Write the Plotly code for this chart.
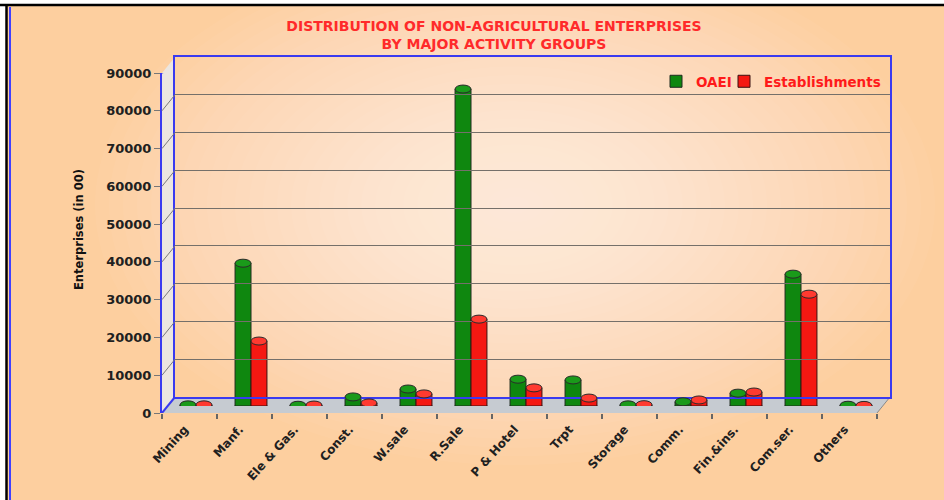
import plotly.graph_objects as go

# ---------------- data ----------------
categories = ["Mining", "Manf.", "Ele & Gas.", "Const.", "W.sale", "R.Sale", "P & Hotel",
              "Trpt", "Storage", "Comm.", "Fin.&ins.", "Com.ser.", "Others"]
oaei = [300, 37800, 200, 2400, 4500, 83900, 7100, 6900, 300, 1100, 3400, 34900, 200]
establishments = [300, 17200, 250, 800, 3200, 23000, 4800, 2100, 350, 1600, 3700, 29600, 150]
y_ticks = [0, 10000, 20000, 30000, 40000, 50000, 60000, 70000, 80000, 90000]
y_max = 90000

title_text = "DISTRIBUTION OF NON-AGRICULTURAL ENTERPRISES<br>BY MAJOR ACTIVITY GROUPS"
y_title = "Enterprises (in 00)"

# ---------------- geometry helpers (pixels -> paper) ----------------
W, H = 944, 500
def fx(p): return p / W
def fy(p): return 1 - p / H

FRONT_X = (162, 877); FRONT_Y = (413, 73)
MID_X = (168.5, 883.5); MID_Y = (406, 66)
BACK_X = (175, 890); BACK_Y = (397, 57)
DEPTH_PX = FRONT_Y[0] - BACK_Y[0]
px_per_unit = (FRONT_Y[0] - FRONT_Y[1]) / y_max

FONT = "DejaVu Sans"
GREEN = "#0f870f"
GREEN_TOP = "#1a9a1a"
RED = "#f51812"
RED_TOP = "#ff3a30"
BLUE = "#3a3af0"
PEACH = "#fdcf9f"
BARGAP = 0.42

fig = go.Figure()

# invisible trace to define categories on the front axis
fig.add_trace(go.Scatter(x=categories, y=oaei, xaxis="x", yaxis="y", mode="markers",
                         marker=dict(opacity=0), showlegend=False, hoverinfo="skip"))

fig.add_trace(go.Bar(name="OAEI", x=categories, y=oaei, xaxis="x2", yaxis="y2", legend="legend",
                     marker=dict(color=GREEN, line=dict(color="#1e2a1e", width=1))))
fig.add_trace(go.Bar(name="Establishments", x=categories, y=establishments, xaxis="x2", yaxis="y2",
                     legend="legend2",
                     marker=dict(color=RED, line=dict(color="#3a1010", width=1))))

# back wall helper trace (invisible)
fig.add_trace(go.Scatter(x=[0, 1], y=[0, y_max], xaxis="x3", yaxis="y3", mode="markers",
                         marker=dict(opacity=0), showlegend=False, hoverinfo="skip"))

shapes = []
# background
shapes.append(dict(type="rect", xref="paper", yref="paper", x0=fx(7), x1=1, y0=0, y1=fy(6),
                   fillcolor=PEACH, line=dict(width=0), layer="below"))
n_glow = 30
cx, cy, rx, ry = 515, 205, 420, 260
for i in range(n_glow):
    s = 1 - i / n_glow
    shapes.append(dict(type="circle", xref="paper", yref="paper",
                       x0=fx(cx - rx * s), x1=fx(cx + rx * s), y0=fy(cy + ry * s), y1=fy(cy - ry * s),
                       fillcolor="white", opacity=0.04, line=dict(width=0), layer="below"))
# outer border lines
shapes.append(dict(type="line", xref="paper", yref="paper", x0=0, x1=1, y0=fy(5), y1=fy(5),
                   line=dict(color="black", width=2.5), layer="below"))
shapes.append(dict(type="line", xref="paper", yref="paper", x0=fx(6.5), x1=fx(6.5), y0=0, y1=fy(5),
                   line=dict(color="black", width=2.5), layer="below"))
shapes.append(dict(type="line", xref="paper", yref="paper", x0=fx(10), x1=fx(10), y0=0, y1=fy(7),
                   line=dict(color="#4040ff", width=2), layer="below"))

# side wall
shapes.append(dict(type="path", xref="paper", yref="paper",
                   path=f"M {fx(FRONT_X[0])},{fy(FRONT_Y[1])} L {fx(BACK_X[0])},{fy(BACK_Y[1])} "
                        f"L {fx(BACK_X[0])},{fy(BACK_Y[0])} L {fx(FRONT_X[0])},{fy(FRONT_Y[0])} Z",
                   fillcolor="#ece6e0", line=dict(width=0), layer="below"))
# floor
shapes.append(dict(type="path", xref="paper", yref="paper",
                   path=f"M {fx(FRONT_X[0])},{fy(FRONT_Y[0])} L {fx(BACK_X[0])},{fy(BACK_Y[0])} "
                        f"L {fx(BACK_X[1])},{fy(BACK_Y[0])} L {fx(FRONT_X[1])},{fy(FRONT_Y[0])} Z",
                   fillcolor="#c6cbd1", line=dict(width=0), layer="below"))
shapes.append(dict(type="line", xref="paper", yref="paper",
                   x0=fx(BACK_X[1]), y0=fy(BACK_Y[0]), x1=fx(FRONT_X[1]), y1=fy(FRONT_Y[0]),
                   line=dict(color="#8a8a8a", width=1), layer="below"))
# side wall connectors (front tick -> back gridline)
depth_units = DEPTH_PX / px_per_unit
for v in y_ticks:
    edge = v in (0, y_max)
    shapes.append(dict(type="line", xref="paper", yref="y",
                       x0=fx(FRONT_X[0]), x1=fx(BACK_X[0]), y0=v, y1=v + depth_units,
                       line=dict(color=BLUE if edge else "#7a7a7a", width=2 if edge else 1)))

# cylinder caps on top and at the base of each bar (derived from the data and bar layout)
bar_w = (1 - BARGAP) / 2
for series, col, top, sign in ((oaei, GREEN, GREEN_TOP, -1), (establishments, RED, RED_TOP, 1)):
    for i, v in enumerate(series):
        c = i + sign * bar_w / 2
        shapes.append(dict(type="circle", xref="x2", yref="y2", ysizemode="pixel", yanchor=0,
                           x0=c - bar_w / 2, x1=c + bar_w / 2, y0=-4, y1=4, layer="below",
                           fillcolor=col, line=dict(color="#2a2a2a", width=1)))
        shapes.append(dict(type="circle", xref="x2", yref="y2", ysizemode="pixel", yanchor=v,
                           x0=c - bar_w / 2, x1=c + bar_w / 2, y0=-4, y1=4,
                           fillcolor=top, line=dict(color="#2a2a2a", width=1)))

legend_font = dict(family=FONT, weight="bold", size=13.5, color="#ff1a1a")

fig.update_layout(
    width=W, height=H,
    margin=dict(l=0, r=0, t=0, b=0),
    paper_bgcolor="white",
    plot_bgcolor="rgba(0,0,0,0)",
    barmode="group", bargap=BARGAP, bargroupgap=0,
    shapes=shapes,
    title=dict(text=title_text, x=fx(494), y=fy(31), xanchor="center", yanchor="middle",
               xref="paper", yref="paper",
               font=dict(family=FONT, weight="bold", size=14, color="#ff2a2a")),
    legend=dict(orientation="h", x=fx(656), y=fy(66), xanchor="left", yanchor="top",
                bgcolor="rgba(0,0,0,0)", itemwidth=30, font=legend_font),
    legend2=dict(orientation="h", x=fx(724), y=fy(66), xanchor="left", yanchor="top",
                 bgcolor="rgba(0,0,0,0)", itemwidth=30, font=legend_font),
    annotations=[dict(text=y_title, xref="paper", yref="paper", x=fx(79), y=fy(230),
                      textangle=-90, showarrow=False, xanchor="center", yanchor="middle",
                      font=dict(family=FONT, weight="bold", size=11.5, color="#111"))],
    xaxis=dict(domain=[fx(FRONT_X[0]), fx(FRONT_X[1])], anchor="y", type="category",
               range=[-0.5, len(categories) - 0.5], showgrid=False, showline=False, zeroline=False,
               ticks="outside", tickson="boundaries", ticklen=5, tickcolor="#666", tickwidth=1.5,
               tickangle=-48, automargin=False, ticklabelstandoff=6, ticklabelshift=-5,
               tickfont=dict(family=FONT, weight="bold", size=12, color="#202020")),
    yaxis=dict(domain=[fy(FRONT_Y[0]), fy(FRONT_Y[1])], anchor="x", range=[0, y_max],
               tickvals=y_ticks, tickformat="d", showgrid=False, zeroline=False,
               showline=True, linecolor=BLUE, linewidth=2,
               ticks="outside", ticklen=6, tickcolor="#777", automargin=False,
               tickfont=dict(family=FONT, weight="bold", size=13, color="#202020")),
    xaxis2=dict(domain=[fx(MID_X[0]), fx(MID_X[1])], anchor="y2", type="category",
                range=[-0.5, len(categories) - 0.5], showgrid=False, showline=False,
                zeroline=False, showticklabels=False, ticks=""),
    yaxis2=dict(domain=[fy(MID_Y[0]), fy(MID_Y[1])], anchor="x2", range=[0, y_max],
                showgrid=False, zeroline=False, showline=False, showticklabels=False, ticks=""),
    xaxis3=dict(domain=[fx(BACK_X[0]), fx(BACK_X[1])], anchor="y3", range=[0, 1],
                showgrid=False, zeroline=False, showticklabels=False, ticks="",
                showline=True, mirror=True, linecolor=BLUE, linewidth=2),
    yaxis3=dict(domain=[fy(BACK_Y[0]), fy(BACK_Y[1])], anchor="x3", range=[0, y_max],
                tickvals=y_ticks[1:-1], showgrid=True, gridcolor="#75706a", gridwidth=1.4,
                zeroline=False, showticklabels=False, ticks="",
                showline=True, mirror=True, linecolor=BLUE, linewidth=2),
)

fig.write_html("out.html")
